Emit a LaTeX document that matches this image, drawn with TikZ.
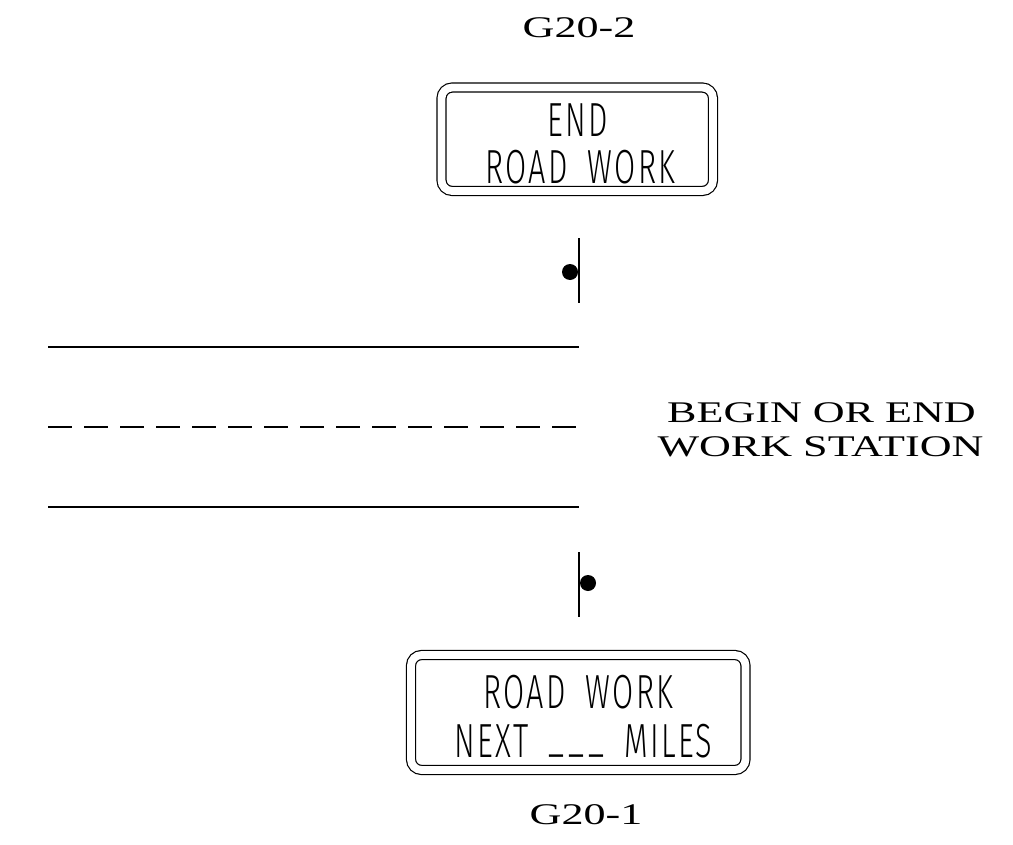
\documentclass[tikz,border=0pt]{standalone}
\usepackage{fontspec}
\newfontfamily\capfont[FakeStretch=1.47]{Liberation Serif}
\newfontfamily\signfont[FakeStretch=0.64, LetterSpace=5, WordSpace=1.8]{Fira Sans Light}
\tikzset{
  sign/.style={draw, double, line width=0.9pt, double distance=5.85pt, rounded corners=8pt, inner sep=0pt},
  signtext/.style={anchor=base, font=\signfont\fontsize{35.9}{40}\selectfont},
  caption/.style={anchor=base, font=\capfont\fontsize{22.5}{26}\selectfont},
  roadline/.style={line width=1.1pt},
  post/.style={line width=1pt},
}
\begin{document}
\begin{tikzpicture}[x=0.75pt, y=-0.75pt]
\useasboundingbox (0,0) rectangle (1013,845);

% Sign G20-2
\node[caption] (g202lbl) at (579,38) {G20-2};
\node[sign, minimum width=203.6pt, minimum height=77.6pt] (g202) at (577.25,139.25) {};
\node[signtext] (g202a) at (578,137) {END};
\node[signtext] (g202b) at (580.5,183) {ROAD WORK};

% Post of G20-2
\draw[post] (579,238) -- (579,303);
\fill (570,272) circle (8);

% Roadway
\draw[roadline] (48,347) -- (579,347);
\draw[roadline, dash pattern=on 18pt off 9pt] (48,427) -- (576,427);
\draw[roadline] (48,507) -- (579,507);

% Work station note
\node[caption] (begin) at (821.5,422) {BEGIN OR END};
\node[caption] (station) at (820.5,456) {WORK STATION};

% Post of G20-1
\draw[post] (579,552) -- (579,617);
\fill (588,583) circle (8);

% Sign G20-1
\node[sign, minimum width=250.9pt, minimum height=86.25pt] (g201) at (578.25,712.5) {};
\node[signtext] (g201a) at (578.5,708) {ROAD WORK};
\node[signtext] (g201b) at (583.5,757) {NEXT \raisebox{4pt}{\_\kern3pt\_\kern3pt\_} MILES};
\node[caption] (g201lbl) at (586,824) {G20-1};

\end{tikzpicture}
\end{document}
